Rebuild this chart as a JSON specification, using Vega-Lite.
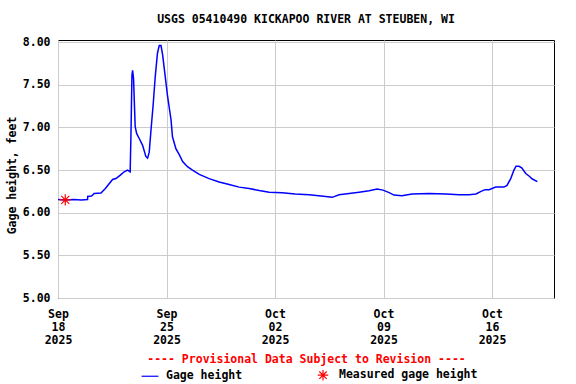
{
  "$schema": "https://vega.github.io/schema/vega-lite/v6.json",
  "autosize": "none",
  "width": 496,
  "height": 258,
  "padding": {"left": 58, "top": 40, "right": 22, "bottom": 86},
  "background": "white",
  "config": {
    "font": "DejaVu Sans Mono",
    "view": {"stroke": "black", "strokeWidth": 1},
    "axis": {"labelFont": "DejaVu Sans Mono", "labelFontWeight": "bold", "labelFontSize": 11.5, "labelColor": "black", "titleFont": "DejaVu Sans Mono", "titleFontWeight": "bold", "titleFontSize": 11.5, "titleColor": "black", "gridColor": "#cccccc", "gridWidth": 1, "gridOpacity": 1, "ticks": false, "domain": false},
    "legend": {"labelFont": "DejaVu Sans Mono", "labelFontWeight": "bold", "labelFontSize": 11.5, "labelColor": "black"}
  },
  "title": {"text": "USGS 05410490 KICKAPOO RIVER AT STEUBEN, WI", "font": "DejaVu Sans Mono", "fontSize": 11.5, "fontWeight": "bold", "color": "black", "anchor": "middle", "frame": "group", "offset": 11},
  "datasets": {
    "gage": [
      {"t": "2025-09-18T00:00", "v": 6.155},
      {"t": "2025-09-18T12:00", "v": 6.15},
      {"t": "2025-09-19T00:00", "v": 6.155},
      {"t": "2025-09-19T12:00", "v": 6.15},
      {"t": "2025-09-19T21:45", "v": 6.155},
      {"t": "2025-09-19T22:00", "v": 6.19},
      {"t": "2025-09-20T04:00", "v": 6.195},
      {"t": "2025-09-20T08:00", "v": 6.225},
      {"t": "2025-09-20T18:30", "v": 6.23},
      {"t": "2025-09-21T01:00", "v": 6.28},
      {"t": "2025-09-21T12:30", "v": 6.39},
      {"t": "2025-09-21T17:45", "v": 6.40},
      {"t": "2025-09-22T00:30", "v": 6.44},
      {"t": "2025-09-22T06:30", "v": 6.48},
      {"t": "2025-09-22T11:45", "v": 6.50},
      {"t": "2025-09-22T15:45", "v": 6.48},
      {"t": "2025-09-22T17:00", "v": 6.93},
      {"t": "2025-09-22T18:30", "v": 7.61},
      {"t": "2025-09-22T19:30", "v": 7.67},
      {"t": "2025-09-22T21:00", "v": 7.57},
      {"t": "2025-09-22T23:30", "v": 7.01},
      {"t": "2025-09-23T01:45", "v": 6.93},
      {"t": "2025-09-23T05:45", "v": 6.87},
      {"t": "2025-09-23T11:00", "v": 6.79},
      {"t": "2025-09-23T16:00", "v": 6.66},
      {"t": "2025-09-23T18:45", "v": 6.64},
      {"t": "2025-09-23T21:15", "v": 6.71},
      {"t": "2025-09-24T00:00", "v": 6.97},
      {"t": "2025-09-24T03:30", "v": 7.28},
      {"t": "2025-09-24T06:30", "v": 7.59},
      {"t": "2025-09-24T10:00", "v": 7.87},
      {"t": "2025-09-24T12:45", "v": 7.96},
      {"t": "2025-09-24T15:30", "v": 7.96},
      {"t": "2025-09-24T18:00", "v": 7.85},
      {"t": "2025-09-24T21:30", "v": 7.63},
      {"t": "2025-09-25T01:45", "v": 7.36},
      {"t": "2025-09-25T07:00", "v": 7.09},
      {"t": "2025-09-25T09:15", "v": 6.89},
      {"t": "2025-09-25T14:30", "v": 6.75},
      {"t": "2025-09-25T19:45", "v": 6.68},
      {"t": "2025-09-26T01:00", "v": 6.60},
      {"t": "2025-09-26T08:30", "v": 6.54},
      {"t": "2025-09-26T16:15", "v": 6.50},
      {"t": "2025-09-27T02:45", "v": 6.45},
      {"t": "2025-09-27T18:00", "v": 6.40},
      {"t": "2025-09-28T09:30", "v": 6.36},
      {"t": "2025-09-29T01:00", "v": 6.33},
      {"t": "2025-09-29T16:30", "v": 6.30},
      {"t": "2025-09-30T08:00", "v": 6.285},
      {"t": "2025-09-30T23:30", "v": 6.26},
      {"t": "2025-10-01T15:00", "v": 6.24},
      {"t": "2025-10-02T11:00", "v": 6.235},
      {"t": "2025-10-03T07:15", "v": 6.22},
      {"t": "2025-10-04T04:45", "v": 6.21},
      {"t": "2025-10-04T23:30", "v": 6.195},
      {"t": "2025-10-05T16:30", "v": 6.18},
      {"t": "2025-10-06T03:15", "v": 6.21},
      {"t": "2025-10-06T18:45", "v": 6.225},
      {"t": "2025-10-07T10:15", "v": 6.24},
      {"t": "2025-10-08T01:45", "v": 6.257},
      {"t": "2025-10-08T14:00", "v": 6.277},
      {"t": "2025-10-08T23:15", "v": 6.265},
      {"t": "2025-10-09T08:45", "v": 6.235},
      {"t": "2025-10-09T16:15", "v": 6.207},
      {"t": "2025-10-10T04:30", "v": 6.20},
      {"t": "2025-10-10T20:15", "v": 6.22},
      {"t": "2025-10-11T22:30", "v": 6.225},
      {"t": "2025-10-13T00:45", "v": 6.22},
      {"t": "2025-10-13T21:00", "v": 6.21},
      {"t": "2025-10-14T12:30", "v": 6.21},
      {"t": "2025-10-14T23:15", "v": 6.22},
      {"t": "2025-10-15T07:00", "v": 6.25},
      {"t": "2025-10-15T13:15", "v": 6.27},
      {"t": "2025-10-15T19:30", "v": 6.27},
      {"t": "2025-10-16T05:45", "v": 6.30},
      {"t": "2025-10-16T18:30", "v": 6.30},
      {"t": "2025-10-16T23:15", "v": 6.32},
      {"t": "2025-10-17T05:00", "v": 6.40},
      {"t": "2025-10-17T10:00", "v": 6.50},
      {"t": "2025-10-17T13:15", "v": 6.545},
      {"t": "2025-10-17T17:45", "v": 6.545},
      {"t": "2025-10-17T22:00", "v": 6.527},
      {"t": "2025-10-18T04:15", "v": 6.46},
      {"t": "2025-10-18T09:15", "v": 6.43},
      {"t": "2025-10-18T14:30", "v": 6.395},
      {"t": "2025-10-18T22:15", "v": 6.365}
    ],
    "measured": [
      {"t": "2025-09-18T11:15", "v": 6.15}
    ]
  },
  "encoding": {
    "x": {
      "field": "t", "type": "temporal",
      "scale": {"domain": [{"year": 2025, "month": 9, "date": 18}, {"year": 2025, "month": 10, "date": 20}], "nice": false},
      "axis": {
        "values": [{"year": 2025, "month": 9, "date": 18}, {"year": 2025, "month": 9, "date": 25}, {"year": 2025, "month": 10, "date": 2}, {"year": 2025, "month": 10, "date": 9}, {"year": 2025, "month": 10, "date": 16}],
        "labelExpr": "[timeFormat(datum.value, '%b'), timeFormat(datum.value, '%d'), timeFormat(datum.value, '%Y')]",
        "labelLineHeight": 13,
        "labelPadding": 10,
        "labelFlush": false,
        "title": "---- Provisional Data Subject to Revision ----",
        "titleColor": "red",
        "titlePadding": 8
      }
    },
    "y": {
      "field": "v", "type": "quantitative",
      "scale": {"domain": [5, 8.025], "nice": false, "zero": false},
      "axis": {"values": [5, 5.5, 6, 6.5, 7, 7.5, 8], "format": ".2f", "labelPadding": 8, "title": "Gage height, feet", "titlePadding": 5, "titleY": 135}
    },
    "color": {"field": "series", "type": "nominal", "scale": {"domain": ["Gage height", "Measured gage height"], "range": ["#0000ff", "#ff0000"]},
      "legend": {"title": null, "orient": "none", "legendX": 86, "legendY": 329, "direction": "horizontal", "columnPadding": 72, "labelOffset": 10, "symbolSize": 110, "symbolStrokeWidth": 1.2}}
  },
  "layer": [
    {
      "data": {"name": "gage"},
      "transform": [{"calculate": "'Gage height'", "as": "series"}],
      "mark": {"type": "line", "strokeWidth": 1.5, "interpolate": "linear"}
    },
    {
      "data": {"name": "measured"},
      "transform": [{"calculate": "'Measured gage height'", "as": "series"}],
      "mark": {"type": "point", "filled": false, "strokeWidth": 1.2, "size": 130, "opacity": 1},
      "encoding": {
        "shape": {"field": "series", "type": "nominal", "scale": {"domain": ["Gage height", "Measured gage height"], "range": ["M-1.6,0L1.6,0", "M-1,0L1,0M0,-1L0,1M-0.7,-0.7L0.7,0.7M-0.7,0.7L0.7,-0.7"]},
          "legend": {"title": null, "orient": "none", "legendX": 86, "legendY": 329, "direction": "horizontal", "columnPadding": 72, "labelOffset": 10, "symbolSize": 110, "symbolStrokeWidth": 1.2}}
      }
    }
  ]
}
